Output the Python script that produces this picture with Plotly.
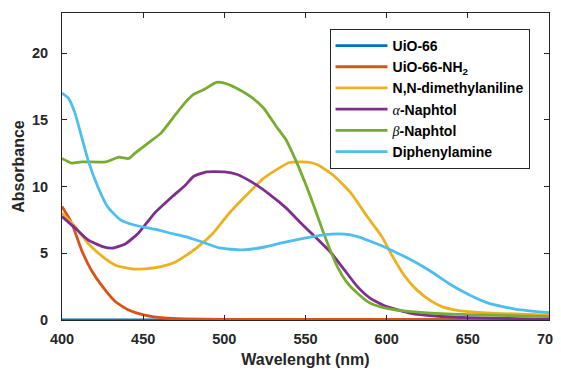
import plotly.graph_objects as go

# ---- data ----
w_uio66 = [400, 450, 500, 550, 600, 650, 700]
a_uio66 = [0, 0, 0, 0, 0, 0, 0]

w_nh2 = [400, 406, 412, 418, 425, 433, 441, 451, 463, 476, 500, 600, 700]
a_nh2 = [8.5, 7.25, 5.25, 3.75, 2.5, 1.37, 0.75, 0.37, 0.15, 0.08, 0.05, 0.04, 0.03]

w_dma = [400, 408, 416, 425, 433, 443, 451, 461, 470, 476, 483, 493, 503, 514, 524, 534, 540, 548,
         553, 558, 568, 578, 588, 597, 603, 611, 619, 627, 634, 641, 650, 667, 700]
a_dma = [8.0, 7.0, 5.75, 4.75, 4.1, 3.83, 3.83, 4.0, 4.35, 4.8, 5.4, 6.5, 8.0, 9.4, 10.6, 11.4, 11.8, 11.85,
         11.8, 11.6, 10.75, 9.5, 7.75, 6.25, 4.9, 3.3, 2.2, 1.45, 1.0, 0.78, 0.62, 0.5, 0.37]

w_anaph = [400, 408, 416, 425, 431, 439, 447, 457, 468, 476, 481, 489, 500, 508, 518, 528, 538, 546,
           557, 566, 574, 582, 590, 600, 615, 630, 650, 700]
a_anaph = [7.75, 6.9, 6.0, 5.5, 5.38, 5.7, 6.5, 8.0, 9.25, 10.1, 10.75, 11.1, 11.1, 10.9, 10.25, 9.4, 8.4, 7.4,
           6.1, 5.0, 3.75, 2.5, 1.62, 1.0, 0.5, 0.3, 0.18, 0.05]

w_bnaph = [400, 406, 412, 427, 435, 441, 445, 453, 461, 470, 476, 481, 488, 495, 500, 507, 516, 524,
           532, 538, 542, 546, 550, 555, 560, 565, 570, 575, 582, 590, 600, 615, 630, 650, 700]
a_bnaph = [12.1, 11.75, 11.85, 11.85, 12.2, 12.1, 12.5, 13.25, 14.0, 15.4, 16.3, 16.9, 17.3, 17.8, 17.75,
           17.4, 16.75, 15.9, 14.5, 13.5, 12.5, 11.4, 10.2, 8.6, 6.9, 5.3, 3.9, 2.9, 2.0, 1.25, 0.87,
           0.62, 0.5, 0.4, 0.25]

w_dpa = [400, 404, 408, 412, 416, 422, 428, 436, 445, 457, 467, 476, 485, 497, 511, 524, 536, 548,
         562, 574, 582, 590, 600, 611, 621, 629, 638, 651, 663, 680, 700]
a_dpa = [17.0, 16.6, 15.5, 13.75, 12.0, 10.0, 8.5, 7.5, 7.1, 6.8, 6.5, 6.25, 5.9, 5.4, 5.25, 5.45, 5.8, 6.1,
         6.4, 6.43, 6.25, 5.9, 5.4, 4.75, 4.1, 3.5, 2.75, 1.87, 1.25, 0.8, 0.55]

x_ticks = [400, 450, 500, 550, 600, 650, 700]
y_ticks = [0, 5, 10, 15, 20]

names = ["UiO-66", "UiO-66-NH<sub>2</sub>", "N,N-dimethylaniline",
         "<span style=\"font-family:'Liberation Serif';font-weight:normal\"><i>α</i></span>-Naphtol",
         "<span style=\"font-family:'Liberation Serif';font-weight:normal\"><i>β</i></span>-Naphtol",
         "Diphenylamine"]
colors = ["#0072BD", "#D95319", "#EDB120", "#7E2F8E", "#77AC30", "#4DBEEE"]

xs = [w_uio66, w_nh2, w_dma, w_anaph, w_bnaph, w_dpa]
ys = [a_uio66, a_nh2, a_dma, a_anaph, a_bnaph, a_dpa]

fig = go.Figure()
for x, y, n, c in zip(xs, ys, names, colors):
    fig.add_trace(go.Scatter(x=x, y=y, mode="lines", name=n,
                             line=dict(color=c, width=2.8, shape="spline", smoothing=0.5)))

FONT = "Arial, Liberation Sans, sans-serif"
axis_common = dict(showline=True, linecolor="#262626", linewidth=1, mirror="ticks",
                   ticks="inside", ticklen=5, tickcolor="#262626", tickwidth=1,
                   showgrid=False, zeroline=False, automargin=False,
                   ticklabeloverflow="allow",
                   tickfont=dict(family=FONT, size=14.5, color="#262626", weight="bold"))

# the page body adds an 8px offset, so the figure is sized to the visible area
fig.update_layout(
    width=553, height=363,
    margin=dict(l=54, r=12, t=5, b=51),
    paper_bgcolor="white", plot_bgcolor="white",
    font=dict(family=FONT, color="#262626"),
    xaxis=dict(range=[400, 700], tickvals=x_ticks, ticklabelstandoff=6,
               title=dict(text="Wavelenght (nm)", standoff=7,
                          font=dict(size=16, weight="bold", color="#262626")),
               **axis_common),
    yaxis=dict(range=[0, 23], tickvals=y_ticks, ticklabelstandoff=10,
               title=dict(text="Absorbance", standoff=3,
                          font=dict(size=16, weight="bold", color="#262626")),
               **axis_common),
    legend=dict(x=0.96, y=0.948, xanchor="right", yanchor="top",
                bgcolor="white", bordercolor="#262626", borderwidth=1,
                font=dict(family=FONT, size=14, weight="bold", color="#000000"),
                itemwidth=52, tracegroupgap=0),
    showlegend=True,
)

fig.write_html("out.html")
